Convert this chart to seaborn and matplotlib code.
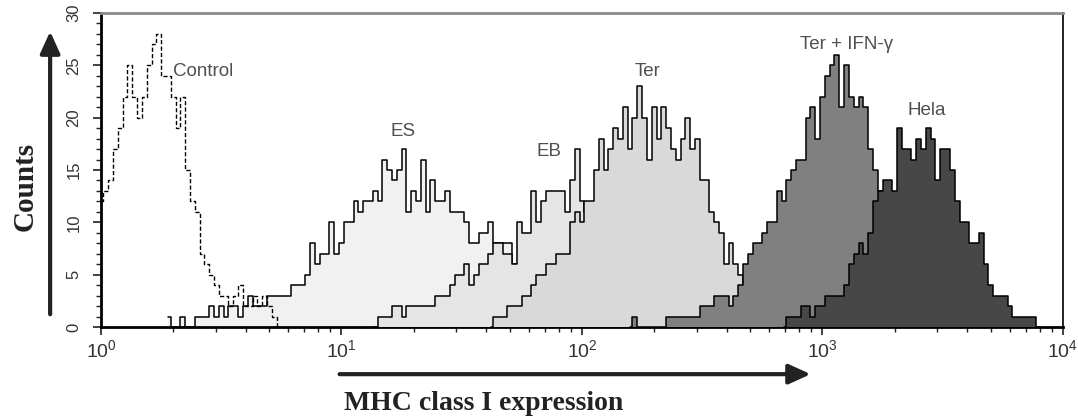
import numpy as np
import matplotlib
matplotlib.use("Agg")
import matplotlib.pyplot as plt
import seaborn as sns
from matplotlib.patches import FancyArrowPatch
from matplotlib.ticker import FixedLocator, LogLocator, NullFormatter

sns.set_style("ticks")
plt.rcParams['font.family'] = ['Liberation Sans', 'DejaVu Sans']
plt.rcParams['mathtext.fontset'] = 'custom'
plt.rcParams['mathtext.rm'] = 'Liberation Sans'

# channel grid: 50 channels per decade, each series starts at log10 value *_start
STEP = 0.02

control_start = 0.0
control_counts = [12, 13, 14, 17, 19, 22, 25, 22, 20, 22, 25, 27, 28, 24, 24, 22, 19, 22,
                  15, 12, 11, 7, 6, 5, 4, 3, 3, 2, 3, 4, 2, 2, 3, 2, 3, 2, 1, 0]

es_start = 0.28
es_counts = [1, 0, 0, 1, 0, 0, 1, 1, 1, 2, 1, 2, 1, 2, 2, 1, 2, 3, 2, 2, 2, 3, 3, 3, 3, 3,
             4, 4, 4, 5, 8, 6, 7, 7, 10, 7, 8, 10, 10, 12, 11, 12, 12, 13, 12, 16, 15, 14,
             15, 17, 11, 13, 12, 16, 11, 14, 12, 12, 13, 11, 11, 11, 10, 8, 8, 9, 9, 10, 8,
             8, 8, 8, 6, 5, 4, 3, 2, 1, 0]

eb_start = 1.14
eb_counts = [0, 1, 1, 1, 2, 2, 1, 2, 2, 2, 2, 2, 2, 3, 3, 3, 4, 5, 5, 6, 4, 5, 6, 6, 7, 8,
             8, 7, 7, 6, 10, 9, 9, 13, 10, 12, 13, 13, 13, 13, 11, 14, 17, 12, 11, 10, 9,
             8, 7, 6, 5, 4, 3, 2, 1, 0]

ter_start = 1.62
ter_counts = [0, 1, 1, 1, 2, 2, 2, 3, 3, 4, 5, 5, 6, 6, 7, 7, 7, 10, 11, 10, 12, 12, 15,
              18, 15, 17, 19, 18, 21, 17, 20, 23, 20, 16, 21, 18, 21, 19, 17, 16, 18, 20,
              17, 18, 14, 14, 11, 10, 9, 6, 8, 6, 5, 4, 3, 2, 2, 1, 1, 0]

ifn_start = 2.20
ifn_counts = [0, 1, 0, 0, 0, 0, 0, 0, 1, 1, 1, 1, 1, 1, 1, 2, 2, 2, 3, 3, 3, 2, 3, 4, 6,
              7, 8, 8, 9, 10, 10, 13, 12, 14, 15, 16, 16, 20, 21, 18, 22, 24, 25, 26, 21,
              25, 22, 21, 22, 21, 17, 15, 13, 11, 9, 7, 5, 4, 3, 2, 1, 0]

hela_start = 2.84
hela_counts = [0, 1, 1, 1, 2, 2, 1, 2, 2, 3, 3, 3, 3, 4, 6, 7, 8, 7, 9, 12, 13, 14, 14,
               13, 19, 17, 17, 16, 18, 17, 19, 18, 14, 17, 17, 15, 12, 10, 10, 8, 8, 9, 6,
               4, 3, 3, 3, 2, 1, 1, 1, 1, 1, 0]

labels = ["Control", "ES", "EB", "Ter", "Ter + IFN-\u03b3", "Hela"]
label_pos = [(2.0, 24.4), (18.0, 18.7), (73.0, 16.8), (188.0, 24.4), (1260.0, 27.0), (2720.0, 20.7)]
label_ha = ["left", "center", "center", "center", "center", "center"]

filled = [
    (es_start, es_counts, "#f1f1f1"),
    (eb_start, eb_counts, "#e5e5e5"),
    (ter_start, ter_counts, "#d9d9d9"),
    (ifn_start, ifn_counts, "#808080"),
    (hela_start, hela_counts, "#474747"),
]

def channel_x(start, counts):
    return 10 ** (start + STEP * np.arange(len(counts)))

fig = plt.figure(figsize=(10.78, 4.19), dpi=100)
ax = fig.add_axes([0.0937, 0.2196, 0.8923, 0.7494])
ax.set_xscale("log")

for start, counts, col in filled:
    x = channel_x(start, counts)
    ax.fill_between(x, counts, step="mid", color=col, lw=0)
    sns.lineplot(x=x, y=counts, drawstyle="steps-mid", color="black", lw=1.1, ax=ax,
                 estimator=None)

# each series (fill + outline) sits above the previous one
for i, coll in enumerate(ax.collections):
    coll.set_zorder(2 + 2 * i)
for i, ln in enumerate(ax.lines):
    ln.set_zorder(3 + 2 * i)

cx = channel_x(control_start, control_counts)
sns.lineplot(x=cx, y=control_counts, drawstyle="steps-mid", color="black", lw=1.0,
             ax=ax, estimator=None)
ax.lines[-1].set_dashes([3, 1.6])
ax.lines[-1].set_zorder(20)

for txt, (tx, ty), ha in zip(labels, label_pos, label_ha):
    ax.text(tx, ty, txt, ha=ha, va="center", fontsize=13.5, color="#505050", zorder=30)

ax.set_xlim(1, 1e4)
ax.set_ylim(0, 30)
ax.set_xticks([1, 10, 100, 1000, 10000])
ax.set_xticklabels([r"$10^{0}$", r"$10^{1}$", r"$10^{2}$", r"$10^{3}$", r"$10^{4}$"])
ax.xaxis.set_minor_locator(LogLocator(base=10, subs=np.arange(2, 10), numticks=20))
ax.xaxis.set_minor_formatter(NullFormatter())
ax.set_yticks([0, 5, 10, 15, 20, 25, 30])
ax.yaxis.set_minor_locator(FixedLocator(np.arange(0, 31, 1)))
ax.tick_params(axis="both", which="major", direction="out", length=6, width=1.2,
               color="#222222", labelcolor="#333333")
ax.tick_params(axis="both", which="minor", direction="out", length=3.5, width=1.0,
               color="#222222")
ax.tick_params(axis="x", labelsize=14, pad=3)
ax.tick_params(axis="y", labelsize=12, labelrotation=90, pad=8)
for lab in ax.get_yticklabels():
    lab.set_va("center")

for side in ["left", "bottom"]:
    ax.spines[side].set_linewidth(2.0)
    ax.spines[side].set_color("black")
ax.spines["top"].set_linewidth(2.0)
ax.spines["top"].set_color("#8a8a8a")
ax.spines["right"].set_linewidth(1.4)
ax.spines["right"].set_color("#222222")
ax.set_xlabel("")
ax.set_ylabel("")

fig.text(0.023, 0.555, "Counts", rotation=90, ha="center", va="center",
         fontsize=21, fontweight="bold", family="Liberation Serif", color="#222222")
fig.text(0.449, 0.036, "MHC class I expression", ha="center", va="center",
         fontsize=20, fontweight="bold", family="Liberation Serif", color="#222222")

arrow_kw = dict(arrowstyle="-|>,head_length=1.1,head_width=0.5", lw=3.0, color="#222222",
                shrinkA=0, shrinkB=0, mutation_scale=12, transform=fig.transFigure)
fig.patches.append(FancyArrowPatch((0.0465, 0.25), (0.0465, 0.925), **arrow_kw))
fig.patches.append(FancyArrowPatch((0.315, 0.107), (0.752, 0.107), **arrow_kw))

fig.savefig("out.png", dpi=100)
